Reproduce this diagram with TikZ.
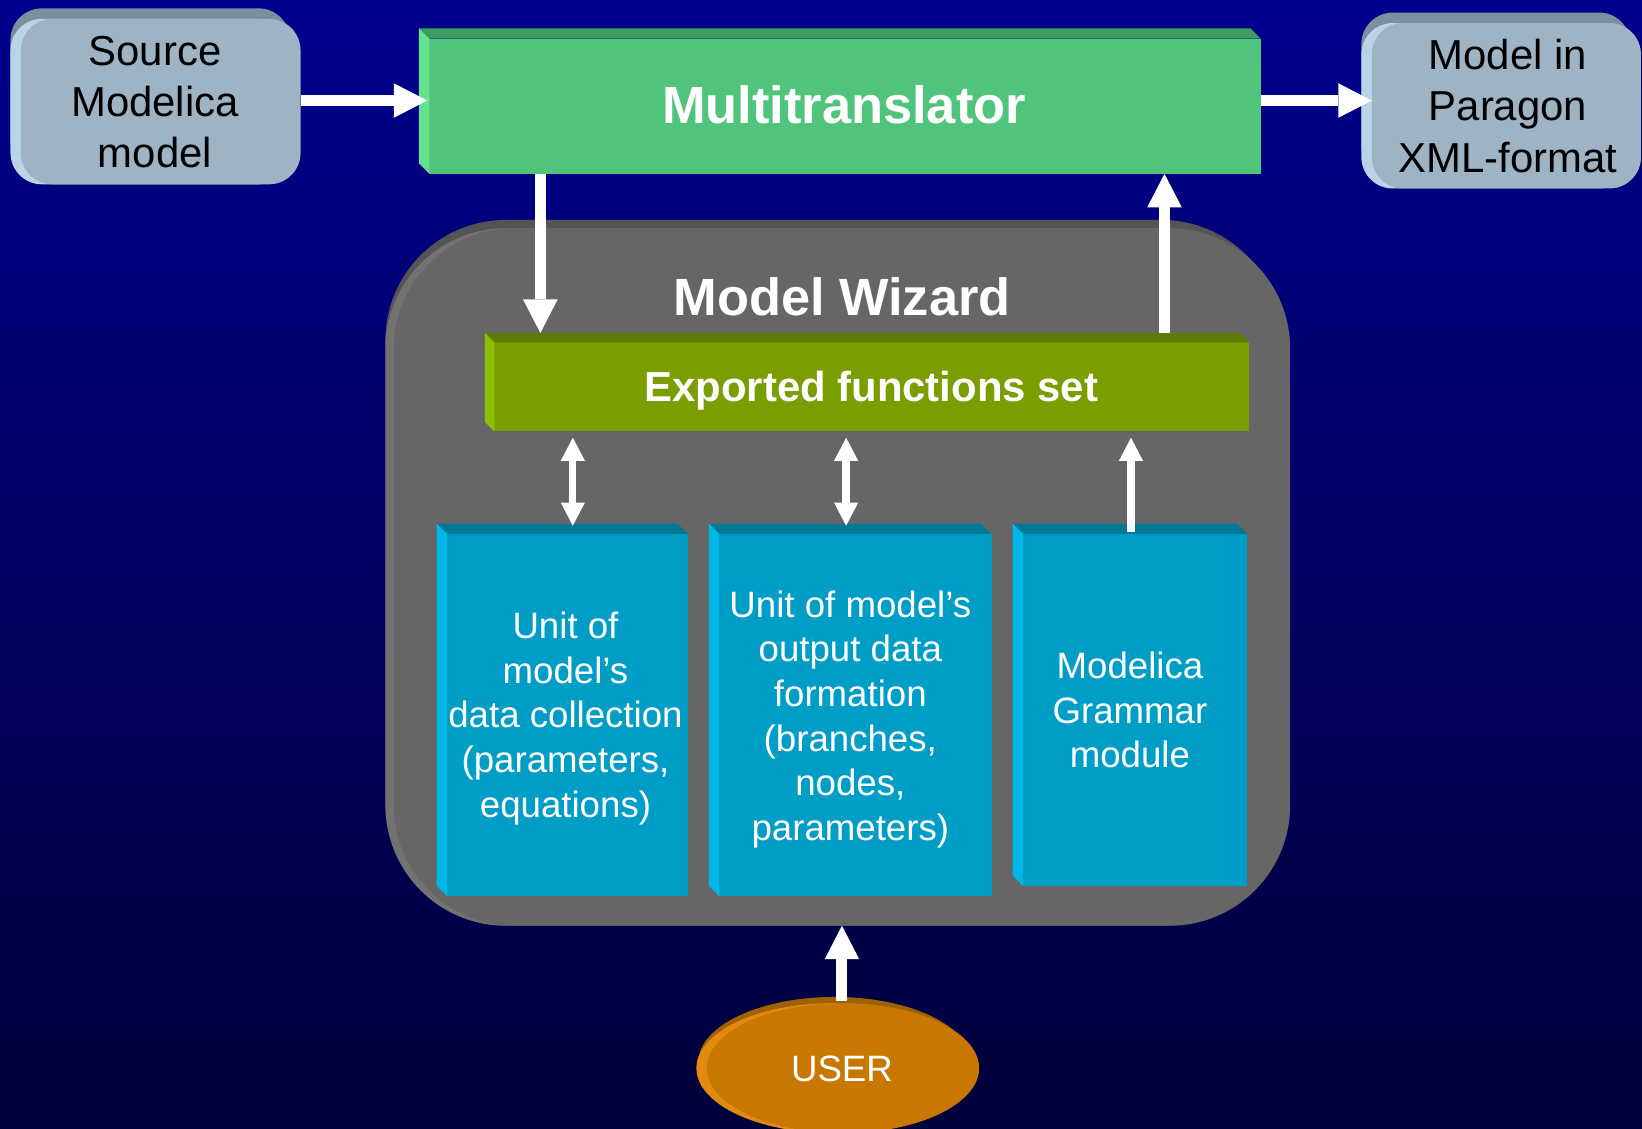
\documentclass[tikz,border=0pt]{standalone}
\usepackage{fontspec}
\setmainfont{Liberation Sans}
\usetikzlibrary{arrows.meta,calc,shapes.geometric}
\pgfdeclarelayer{sky}
\pgfdeclarelayer{bevel}
\pgfsetlayers{sky,bevel,main}
\definecolor{skytop}{RGB}{0,0,142}
\definecolor{skybot}{RGB}{0,0,58}
\definecolor{srcface}{RGB}{158,179,196}
\definecolor{srctop}{RGB}{125,142,156}
\definecolor{srcleft}{RGB}{184,212,230}
\definecolor{mtface}{RGB}{80,196,122}
\definecolor{mttop}{RGB}{62,156,96}
\definecolor{mtleft}{RGB}{102,226,142}
\definecolor{exface}{RGB}{122,158,0}
\definecolor{extop}{RGB}{94,122,0}
\definecolor{exleft}{RGB}{142,192,0}
\definecolor{bxface}{RGB}{0,158,198}
\definecolor{bxtop}{RGB}{0,120,150}
\definecolor{bxleft}{RGB}{0,182,228}
\definecolor{pnface}{RGB}{102,102,102}
\definecolor{pntop}{RGB}{84,84,84}
\definecolor{pnleft}{RGB}{114,114,114}
\definecolor{usface}{RGB}{200,120,0}
\definecolor{ustop}{RGB}{160,98,0}
\definecolor{usleft}{RGB}{226,138,16}
\newcommand\mybevel[4]{%
  \fill[#3] ($(#1.north west)+(-#2,-#2)$) -- ($(#1.north east)+(-#2,-#2)$) -- (#1.north east) -- (#1.north west) -- cycle;
  \fill[#4] ($(#1.north west)+(-#2,-#2)$) -- (#1.north west) -- (#1.south west) -- ($(#1.south west)+(-#2,-#2)$) -- cycle;}
\tikzset{
  face/.style={inner sep=0pt, outer sep=0pt, align=center},
  bigtxt/.style={font=\fontsize{40}{49}\selectfont, align=center},
  boldbig/.style={font=\fontsize{50}{60}\selectfont\bfseries, text=white},
  boldmid/.style={font=\fontsize{40}{48}\selectfont\bfseries, text=white},
  boxtxt/.style={font=\fontsize{35}{42.6}\selectfont, text=white},
  bigarrow/.style={draw=white, line width=10.5pt, -{Triangle[width=33pt,length=32pt,line width=0pt]}},
  smallarrow/.style={draw=white, line width=7pt, -{Triangle[width=23pt,length=22pt,line width=0pt]}},
  smalldouble/.style={draw=white, line width=7pt, {Triangle[width=23pt,length=22pt,line width=0pt]}-{Triangle[width=23pt,length=22pt,line width=0pt]}},
}
\begin{document}
\begin{tikzpicture}[x=1pt,y=-1pt]
\useasboundingbox (0,0) rectangle (1568,1078);
\begin{pgfonlayer}{sky}
  \shade[top color=skytop, bottom color=skybot] (0,0) rectangle (1568,1078);
\end{pgfonlayer}

% Model Wizard panel
\node[face, fill=pnface, rounded corners=115pt, minimum width=856pt, minimum height=666pt] (pn) at (804,551) {};
\node[boldbig] (mw) at (804,283) {Model Wizard};

% source and output boxes
\node[face, fill=srcface, rounded corners=30pt, minimum width=267pt, minimum height=158pt] (src) at (153.5,97) {};
\node[bigtxt] (srct) at (148,97.5) {Source\\Modelica\\model};
\node[face, fill=srcface, rounded corners=30pt, minimum width=257pt, minimum height=158pt] (out) at (1438.5,101) {};
\node[bigtxt] (outt) at (1440,101) {Model in\\Paragon\\XML-format};

\begin{pgfonlayer}{bevel}
  \fill[pntop, rounded corners=115pt] ($(pn.north west)+(-8,-8)$) rectangle ($(pn.south east)+(-8,-8)$);
  \fill[pnleft, rounded corners=115pt] ($(pn.north west)+(-8,0)$) rectangle ($(pn.south east)+(-8,0)$);
  \fill[srctop, rounded corners=30pt] ($(src.north west)+(-10,-10)$) rectangle ($(src.south east)+(-10,-10)$);
  \fill[srcleft, rounded corners=30pt] ($(src.north west)+(-10,0)$) rectangle ($(src.south east)+(-10,0)$);
  \fill[srctop, rounded corners=30pt] ($(out.north west)+(-10,-10)$) rectangle ($(out.south east)+(-10,-10)$);
  \fill[srcleft, rounded corners=30pt] ($(out.north west)+(-10,0)$) rectangle ($(out.south east)+(-10,0)$);
\end{pgfonlayer}

% Multitranslator
\node[face, fill=mtface, minimum width=794pt, minimum height=129pt] (mt) at (807,101.5) {};
\mybevel{mt}{10}{mttop}{mtleft}
\node[boldbig] (mtt) at (806,100) {Multitranslator};

% Exported functions set
\node[face, fill=exface, minimum width=721pt, minimum height=85pt] (ex) at (832.5,369.5) {};
\mybevel{ex}{9}{extop}{exleft}
\node[boldmid] (ext) at (832,373) {Exported functions set};

% three units
\node[face, fill=bxface, minimum width=230pt, minimum height=346pt] (b1) at (542,683) {};
\mybevel{b1}{10}{bxtop}{bxleft}
\node[boxtxt, align=center] (b1t) at (540,686) {Unit of\\model’s\\data collection\\(parameters,\\equations)};
\node[face, fill=bxface, minimum width=260pt, minimum height=346pt] (b2) at (817,683) {};
\mybevel{b2}{10}{bxtop}{bxleft}
\node[boxtxt, align=center] (b2t) at (812,687) {Unit of model’s\\output data\\formation\\(branches,\\nodes,\\parameters)};
\node[face, fill=bxface, minimum width=214pt, minimum height=336pt] (b3) at (1084,678) {};
\mybevel{b3}{10}{bxtop}{bxleft}
\node[boxtxt, align=center] (b3t) at (1079,678) {Modelica\\Grammar\\module};

% USER
\node[face, ellipse, fill=usface, minimum width=260pt, minimum height=124pt] (us) at (805,1020) {};
\node[boxtxt] (ust) at (804,1021) {USER};
\begin{pgfonlayer}{bevel}
  \fill[ustop] ($(us.center)+(-8,-6)$) ellipse [x radius=130pt, y radius=62pt];
  \fill[usleft] ($(us.center)+(-10,0)$) ellipse [x radius=130pt, y radius=62pt];
\end{pgfonlayer}

% connector columns
\coordinate (rowY) at (0,96);
\coordinate (cA) at (516,0);
\coordinate (cB) at (1112,0);
\coordinate (cC) at (547,0);
\coordinate (cD) at (808,0);
\coordinate (cE) at (1080,0);
\coordinate (cF) at (804,0);

% connectors
\draw[bigarrow, shorten >=2pt] (src.east |- rowY) -- (mt.west |- rowY);
\draw[bigarrow] (mt.east |- rowY) -- (out.west |- rowY);
\draw[bigarrow, shorten >=9pt] (mt.south -| cA) -- (ex.north -| cA);
\draw[bigarrow, shorten <=9pt] (ex.north -| cB) -- (mt.south -| cB);
\draw[smalldouble, shorten <=6pt, shorten >=8pt] (ex.south -| cC) -- (b1.north -| cC);
\draw[smalldouble, shorten <=6pt, shorten >=8pt] (ex.south -| cD) -- (b2.north -| cD);
\draw[smallarrow, shorten <=2pt, shorten >=6pt] (b3.north -| cE) -- (ex.south -| cE);
\draw[bigarrow] ($(us.north -| cF)+(0,-2)$) -- (pn.south -| cF);
\end{tikzpicture}
\end{document}
